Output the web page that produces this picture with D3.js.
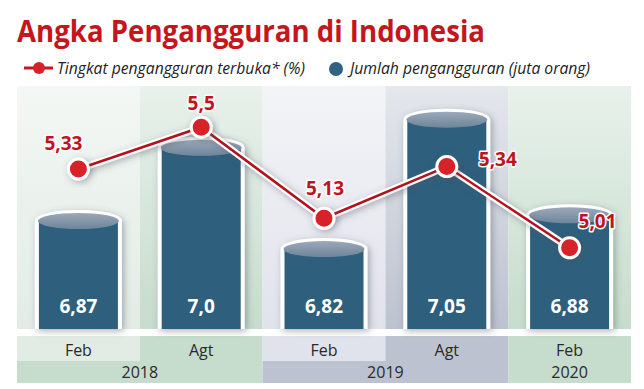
<!DOCTYPE html>
<html>
<head>
<meta charset="utf-8">
<script src="https://cdn.jsdelivr.net/npm/d3@7"></script>
<style>
  body { margin: 0; background: #fff; }
  svg { display: block; font-family: "Open Sans", "Noto Sans", sans-serif; }
</style>
</head>
<body>
<svg id="chart" width="644" height="389"></svg>
<script>
const periods = ['Feb 2018', 'Agt 2018', 'Feb 2019', 'Agt 2019', 'Feb 2020'];
const months = ['Feb', 'Agt', 'Feb', 'Agt', 'Feb'];
const years = ['2018', '2018', '2019', '2019', '2020'];
const jumlah = [6.87, 7.0, 6.82, 7.05, 6.88];
const jumlahLabels = ['6,87', '7,0', '6,82', '7,05', '6,88'];
const tingkat = [5.33, 5.5, 5.13, 5.34, 5.01];
const tingkatLabels = ['5,33', '5,5', '5,13', '5,34', '5,01'];

// label placement around each dot (dx, dy of text centre)
const labelOffsets = [[-15, 20 - 46], [0, -24], [1, -30], [51, -8], [28, -27]];

const svg = d3.select('#chart');
const width = +svg.attr('width');

const red = '#c8161f';
const barBlue = '#2d5e7c';
// column tones: light / dark, green for 2018 & 2020, grey-blue for 2019
const tones = ['#e2ece5', '#c6dccc', '#e1e3ec', '#bcc2cf', '#c6dccc'];

const plotTop = 86, plotBottom = 329;
const monthTop = 336, yearTop = 361, yearBottom = 383;

const x = d3.scaleBand().domain(periods).range([17, 631]).padding(0);
const yBar = d3.scaleLinear().domain([6.678, 7.0975]).range([plotBottom, 93]);
const yLine = d3.scaleLinear().domain([4.68, 5.639]).range([plotBottom, 93]);
const cx = (p) => x(p) + x.bandwidth() / 2;

const defs = svg.append('defs');
const sh = defs.append('filter').attr('id', 'shadow')
  .attr('x', '-40%').attr('y', '-40%').attr('width', '180%').attr('height', '180%');
sh.append('feDropShadow').attr('dx', 2).attr('dy', 2).attr('stdDeviation', 3.5)
  .attr('flood-color', '#4a5464').attr('flood-opacity', 0.45);

tones.forEach((c, i) => {
  const g = defs.append('linearGradient').attr('id', 'bg' + i)
    .attr('x1', 0).attr('x2', 0).attr('y1', 0).attr('y2', 1);
  g.append('stop').attr('offset', '0%').attr('stop-color', d3.interpolateRgb(c, '#fff')(0.6));
  g.append('stop').attr('offset', '100%').attr('stop-color', c);
});
const capGrad = defs.append('linearGradient').attr('id', 'cap')
  .attr('x1', 0).attr('x2', 0).attr('y1', 0).attr('y2', 1);
capGrad.append('stop').attr('offset', '0%').attr('stop-color', '#9aa9ba');
capGrad.append('stop').attr('offset', '100%').attr('stop-color', '#6f8599');

// Title
svg.append('text')
  .attr('x', 17).attr('y', 42)
  .attr('fill', '#c4161c')
  .attr('font-size', 30).attr('font-weight', 700)
  .attr('textLength', 468).attr('lengthAdjust', 'spacingAndGlyphs')
  .text('Angka Pengangguran di Indonesia');

// Legend
const lg = svg.append('g');
lg.append('line').attr('x1', 24).attr('x2', 53).attr('y1', 68).attr('y2', 68)
  .attr('stroke', red).attr('stroke-width', 3);
lg.append('circle').attr('cx', 39).attr('cy', 68).attr('r', 6).attr('fill', '#d7202a');
lg.append('text').attr('x', 57).attr('y', 74)
  .attr('font-size', 16).attr('font-style', 'italic').attr('fill', '#222')
  .attr('textLength', 248).attr('lengthAdjust', 'spacingAndGlyphs')
  .text('Tingkat pengangguran terbuka* (%)');
lg.append('circle').attr('cx', 336).attr('cy', 69).attr('r', 7).attr('fill', '#2f6285');
lg.append('text').attr('x', 350).attr('y', 74)
  .attr('font-size', 16).attr('font-style', 'italic').attr('fill', '#222')
  .attr('textLength', 240).attr('lengthAdjust', 'spacingAndGlyphs')
  .text('Jumlah pengangguran (juta orang)');

// Column backgrounds
svg.append('g').selectAll('rect')
  .data(periods)
  .join('rect')
  .attr('x', (d) => x(d))
  .attr('y', plotTop)
  .attr('width', x.bandwidth())
  .attr('height', plotBottom - plotTop)
  .attr('fill', (d, i) => `url(#bg${i})`);

// Month row
const monthG = svg.append('g');
monthG.selectAll('rect').data(periods).join('rect')
  .attr('x', (d) => x(d)).attr('y', monthTop)
  .attr('width', x.bandwidth()).attr('height', yearTop - monthTop)
  .attr('fill', (d, i) => tones[i]);
monthG.selectAll('text').data(periods).join('text')
  .attr('x', cx).attr('y', 356)
  .attr('text-anchor', 'middle').attr('font-size', 16).attr('fill', '#2a2a2a')
  .text((d, i) => months[i]);

// Year row
const yearGroups = d3.groups(periods.map((p, i) => ({ p, i, y: years[i] })), (d) => d.y);
const yearG = svg.append('g');
yearGroups.forEach(([yr, items]) => {
  const x0 = x(items[0].p);
  const x1 = x(items[items.length - 1].p) + x.bandwidth();
  const tone = tones[items[items.length - 1].i];
  yearG.append('rect').attr('x', x0).attr('y', yearTop)
    .attr('width', x1 - x0).attr('height', yearBottom - yearTop).attr('fill', tone);
  yearG.append('text').attr('x', (x0 + x1) / 2).attr('y', 378)
    .attr('text-anchor', 'middle').attr('font-size', 16).attr('fill', '#2a2a2a')
    .text(yr);
});

// Cylinder bars
const barW = 83, ry = 9;
const bars = svg.append('g').selectAll('g').data(periods).join('g');
bars.append('path')
  .attr('filter', 'url(#shadow)')
  .attr('fill', barBlue)
  .attr('stroke', '#fff').attr('stroke-width', 4).attr('stroke-linejoin', 'round')
  .attr('d', (d, i) => {
    const x0 = cx(d) - barW / 2, x1 = cx(d) + barW / 2, yt = yBar(jumlah[i]);
    return `M${x0},${plotBottom}L${x0},${yt}A${barW / 2},${ry} 0 0 1 ${x1},${yt}L${x1},${plotBottom}`;
  });
bars.append('ellipse')
  .attr('cx', cx)
  .attr('cy', (d, i) => yBar(jumlah[i]))
  .attr('rx', barW / 2 - 1).attr('ry', ry - 1)
  .attr('fill', 'url(#cap)');
bars.append('text')
  .attr('x', cx).attr('y', 313)
  .attr('text-anchor', 'middle').attr('font-size', 19).attr('font-weight', 700)
  .attr('fill', '#fff')
  .text((d, i) => jumlahLabels[i]);

// Line
const pts = periods.map((p, i) => [cx(p), yLine(tingkat[i])]);
const line = d3.line();
svg.append('path').attr('d', line(pts))
  .attr('fill', 'none').attr('stroke', '#fff').attr('stroke-width', 7)
  .attr('filter', 'url(#shadow)');
svg.append('path').attr('d', line(pts))
  .attr('fill', 'none').attr('stroke', '#b3121b').attr('stroke-width', 2.5);

svg.append('g').selectAll('circle').data(pts).join('circle')
  .attr('cx', (d) => d[0]).attr('cy', (d) => d[1])
  .attr('r', 10)
  .attr('fill', '#d7202a').attr('stroke', '#fff').attr('stroke-width', 3)
  .attr('filter', 'url(#shadow)');

svg.append('g').selectAll('text').data(pts).join('text')
  .attr('x', (d, i) => d[0] + labelOffsets[i][0])
  .attr('y', (d, i) => d[1] + labelOffsets[i][1] + 7)
  .attr('text-anchor', 'middle')
  .attr('font-size', 19).attr('font-weight', 700)
  .attr('fill', '#c0141c')
  .attr('stroke', '#fff').attr('stroke-width', 3).attr('paint-order', 'stroke')
  .attr('stroke-linejoin', 'round')
  .text((d, i) => tingkatLabels[i]);
</script>
</body>
</html>
